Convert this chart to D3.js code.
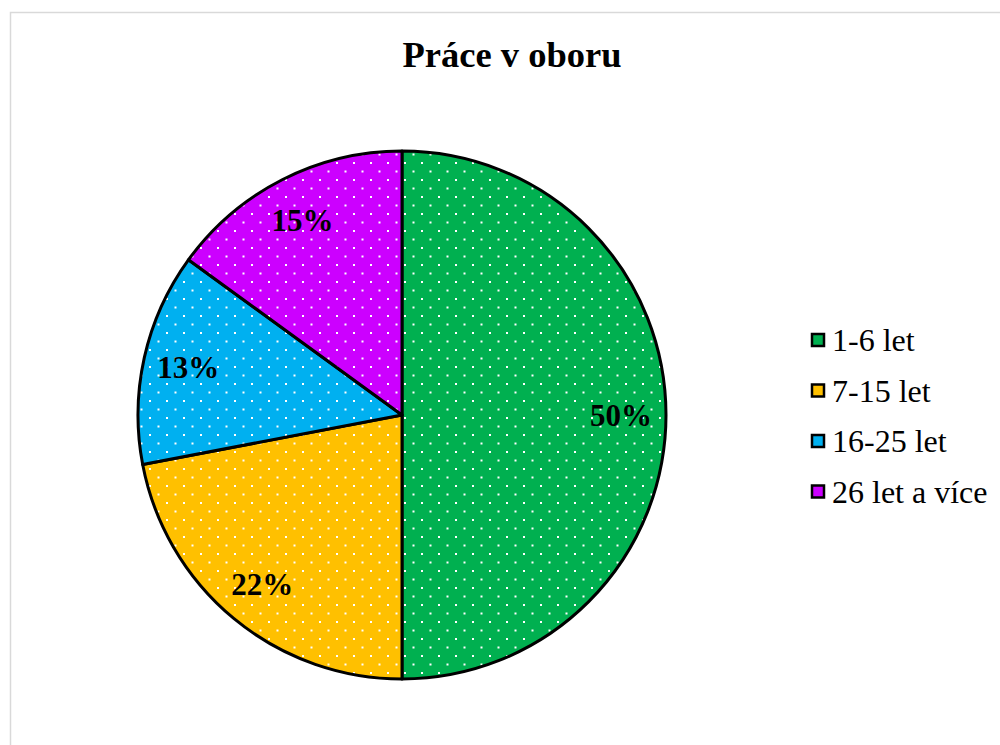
<!DOCTYPE html>
<html>
<head>
<meta charset="utf-8">
<script src="https://cdn.jsdelivr.net/npm/d3@7"></script>
<style>
  body { margin: 0; background: #fff; }
</style>
</head>
<body>
<script>
// data
const categories = ['1-6 let', '7-15 let', '16-25 let', '26 let a více'];
const values = [50, 22, 13, 15];
const colors = ['#00B050', '#FFC000', '#00B0F0', '#CC00FF'];

const width = 1000;
const height = 745;
const serif = 'Liberation Serif';

const svg = d3.select('body').append('svg')
  .attr('width', width)
  .attr('height', height);

// dotted fill patterns, one per slice colour
const defs = svg.append('defs');
colors.forEach((c, i) => {
  const p = defs.append('pattern')
    .attr('id', `dots${i}`)
    .attr('patternUnits', 'userSpaceOnUse')
    .attr('width', 17)
    .attr('height', 17);
  p.append('rect').attr('width', 17).attr('height', 17).attr('fill', c);
  p.append('rect').attr('x', 2).attr('y', 2).attr('width', 2).attr('height', 2).attr('fill', '#fff');
  p.append('rect').attr('x', 10.5).attr('y', 10.5).attr('width', 2).attr('height', 2).attr('fill', '#fff');
});

// chart area border (runs off the right and bottom)
svg.append('rect')
  .attr('x', 10.5)
  .attr('y', 12.5)
  .attr('width', 1000)
  .attr('height', 800)
  .attr('fill', 'none')
  .attr('stroke', '#d9d9d9')
  .attr('stroke-width', 1.5);

svg.append('text')
  .attr('x', 512)
  .attr('y', 67)
  .attr('text-anchor', 'middle')
  .attr('font-family', serif)
  .attr('font-size', 36.5)
  .attr('font-weight', 'bold')
  .text('Práce v oboru');

const cx = 402;
const cy = 415;
const radius = 264;

const pie = d3.pie().sort(null).value(d => d);
const arcs = pie(values);
const arc = d3.arc().innerRadius(0).outerRadius(radius);
const labelArc = d3.arc().innerRadius(radius * 0.83).outerRadius(radius * 0.83);

const g = svg.append('g')
  .attr('transform', `translate(${cx},${cy})`);

g.selectAll('path.slice')
  .data(arcs)
  .join('path')
  .attr('class', 'slice')
  .attr('d', arc)
  .attr('fill', (d, i) => `url(#dots${i})`)
  .attr('stroke', '#000')
  .attr('stroke-width', 3)
  .attr('stroke-linejoin', 'round');

g.selectAll('text.lbl')
  .data(arcs)
  .join('text')
  .attr('class', 'lbl')
  .attr('transform', d => `translate(${labelArc.centroid(d)})`)
  .attr('text-anchor', 'middle')
  .attr('dy', '0.35em')
  .attr('font-family', serif)
  .attr('font-size', 31)
  .attr('font-weight', 'bold')
  .text(d => `${d.data}%`);

// legend
const legend = svg.append('g')
  .attr('transform', 'translate(812,340)');

const item = legend.selectAll('g')
  .data(categories)
  .join('g')
  .attr('transform', (d, i) => `translate(0,${i * 50.5})`);

item.append('rect')
  .attr('x', 0)
  .attr('y', -6)
  .attr('width', 12)
  .attr('height', 12)
  .attr('fill', (d, i) => colors[i])
  .attr('stroke', '#000')
  .attr('stroke-width', 2.5);

item.append('text')
  .attr('x', 20)
  .attr('y', 0)
  .attr('dy', '0.35em')
  .attr('font-family', serif)
  .attr('font-size', 32)
  .text(d => d);
</script>
</body>
</html>
